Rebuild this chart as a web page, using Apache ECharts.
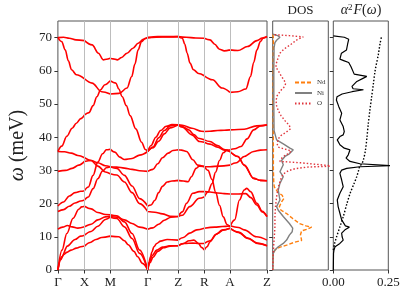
<!DOCTYPE html>
<html><head><meta charset="utf-8">
<script src="https://cdn.jsdelivr.net/npm/echarts@6/dist/echarts.min.js"></script>
<style>html,body{margin:0;padding:0;background:#fff}#c{width:407px;height:295px}</style>
</head><body><div id="c"></div>
<script>
// high-symmetry path positions and labels
const hsPos = [0, 28, 55, 94.5, 126.5, 154, 181, 220];
const hsLabels = ['Γ','X','M','Γ','Z','R','A','Z'];
const yTicks = [0,10,20,30,40,50,60,70];

// phonon branches: [path position, energy meV]
const band1 = [[0,0],[2.7,3],[6,4.6],[9.4,5.3],[14,6],[19.4,6.6],[24,7],[28,7.2],
 [34,8.3],[40,9.2],[46,9.8],[55,10.2],
 [64,10],[70,8.8],[74,7.6],[80,5.6],[84,4],[89,2],[94.5,0],
 [97,2.2],[100,3.8],[105,5.6],[111,6.7],[118,7.2],[126.5,7.3],
 [132,8],[138,8.8],[143,9],[148,8],[151,6.8],[154,6],
 [157,7],[160,8.5],[166,10.7],[173,12],[181,12.6],
 [190,11.3],[200,9.5],[210,8],[220,7.3]];
const band2 = [[0,0],[4,4],[10,7.2],[18,9.2],[24,10.2],[28,10.5],
 [35,11.6],[42,13.2],[50,15.2],[55,15.9],
 [62,15.5],[70,13],[78,9.5],[86,5],[94.5,0],
 [96.5,2.5],[99,4.3],[104,6],[110,6.9],[118,7.3],[126.5,7.3],
 [133,8],[142,8.1],[148,8],[154,8],
 [160,8.8],[168,11],[174,12.1],[181,12.6],
 [190,11.4],[200,9.6],[210,8.1],[220,7.3]];
const band3 = [[0,0],[4.3,6],[9.4,11],[16,15.6],[22,18.3],[25,19],[28,19.2],
 [35,18.4],[42,17.3],[50,16.7],[55,16.6],
 [62,16.3],[70,14.5],[78,11],[86,6],[94.5,0],
 [96,2.5],[97.4,4],[99,5.5],[101,7],[104,8],[108,8.7],[115,9.2],[126.5,9],
 [132,9.8],[138.7,11.1],[146,12.1],[154,12.6],
 [165,12.9],[173,13.1],[181,13.3],
 [190,12.8],[196,12.1],[209,10],[220,9]];
const band4 = [[0,12.3],[5,12.9],[10,13.4],[15,13],[21,12.6],[28,13],
 [35,13.8],[42,15.1],[50,16],[55,16.1],
 [62,15.9],[70,15.1],[78,14],[86,12.9],[94.5,12.3],
 [100,12.7],[106,13.8],[112,15],[119,15.9],[126.5,16.1],
 [131,17.5],[135.4,20.1],[142,23.1],[148.7,23.6],[154,23.6],
 [160,23.5],[168,23.2],[175,23],[181,22.9],
 [190,22.9],[197.7,23],[203,21.8],[209.3,19.6],[215,17.5],[220,16.1]];
const band5 = [[0,17.6],[6,18.2],[12,19.2],[18,20.2],[24,20.8],[28,21.1],
 [32,22],[37,24.5],[42,27.5],[47,29.8],[51,30.8],[55,31.1],
 [62,30.6],[70,28.5],[78,25.3],[86,21.5],[94.5,19.3],
 [98,19.6],[102,21],[106,23.3],[110,25.2],[115,26.5],[120,26.8],[126.5,27],
 [132,26.8],[137,26.6],[140.4,28.1],[145.4,30.6],[148.7,31.3],[154,31.2],
 [158,30],[162,27.3],[166,23.4],[170,19.5],[174,16],[178,13.7],[181,13],
 [186,15.1],[191,21.1],[196,24.1],[198.7,24.6],[202.7,23.6],[209.4,20.1],[215,17.7],[220,16.1]];
const band6 = [[0,19.3],[6,20.5],[12,22.3],[18,23.3],[24,23.7],[28,23.9],
 [32,25],[37,28.5],[42,32.5],[47,35],[51,36.2],[55,36.4],
 [60,35.5],[65,34],[70,33.3],[78,33.6],[86,34.6],[94.5,35.7],
 [98,37.5],[103,40],[108,42],[114,43.3],[120,43.8],[126.5,43.7],
 [131,43.2],[137.7,42.2],[143,40.8],[147.7,39.7],[154,39.2],
 [160,38.7],[168,37.5],[175,36.3],[181,35.7],
 [189.4,34.2],[196,31.6],[206,27.6],[213,27],[220,26.9]];
const band7 = [[0,29.7],[8,30],[15,30.6],[22,31.6],[28,32.7],
 [35,33],[42,32.3],[50,31.4],[55,31.1],
 [62,31],[70,30.7],[78,30.3],[86,29.9],[94.5,29.7],
 [100,30.3],[105,32],[110,33.8],[116,35.2],[121,36],[126.5,36.2],
 [130,36.1],[135.4,35.7],[142,33.2],[147,31.6],[154,31.1],
 [160,31.1],[170,31.3],[181,31.6],
 [188,32.3],[196,34.2],[206,35.7],[213,36.1],[220,36.2]];
const band8 = [[0,35.7],[7,35.6],[14,35.2],[21,34.5],[28,33.8],
 [35,33],[42,31.3],[50,29.5],[55,29],
 [62,28.6],[70,26.5],[78,23.3],[86,20],[94.5,17.6],
 [102,17.4],[110,16.9],[118,16.2],[126.5,16.1],
 [131,16.5],[138.7,19.1],[148.7,21.6],[154,22],
 [158,23.5],[162,26],[166,29.5],[170,33],[174,35.3],[178,36.1],[181,36.2],
 [186,36.5],[192.7,37.2],[199,39.5],[206,42.2],[213,43.4],[220,43.7]];
const band9 = [[0,35.7],[4,37.3],[9.4,40.3],[15,42.7],[19.4,44.2],[24,45.6],[28,46.7],
 [32.7,47.4],[37,49.5],[41,52.2],[45,54.3],[49.4,55.8],[55,57],
 [61,56.3],[64,54.5],[67.7,52.2],[72,49.5],[76,46.5],[82,42.5],[88,38.5],[92,36.3],[94.5,35.7],
 [100,36.8],[106,38.8],[112,41],[118,42.8],[126.5,43.7],
 [131,43.6],[141,42.7],[151,41.8],[154,41.7],
 [160,41.8],[168,42],[175,42.1],[181,42.2],
 [196,42.4],[209,43.4],[220,43.7]];
const band10 = [[0,70],[4,68.8],[7.7,66.3],[11,63],[14.4,60.3],[19.4,58.8],[28,57.6],
 [36,56.3],[46,53.7],[55,53],
 [64.4,53.2],[72.7,54.8],[77.7,58.3],[81,62],[84.4,66.3],[88,68.8],[92,69.8],[94.5,70],
 [110,70.2],[126.5,70.3],
 [131,69.8],[133.5,68],[136,65.3],[139,62.3],[142.7,60.3],[148,59.2],[154,58.5],
 [162.7,57.3],[172.7,54.8],[181,53.5],
 [189.4,53.7],[197.7,54.5],[202.7,58.3],[206,62.5],[209.4,66.3],[213,68.8],[216,69.8],[220,70.3]];
const band11 = [[0,70],[6,70.1],[12,69.8],[19,69.3],[28,69.1],
 [36,67.8],[42.7,65.3],[47.7,63.3],[51,63.5],[55,63.8],
 [58,63.6],[62.7,63.3],[67,64],[72.7,65.3],[79,66.8],[84.4,68.3],[90,69.5],[94.5,70],
 [105,70.3],[115,70.3],[126.5,70.3],
 [135,70.1],[145,69.9],[154,69.8],
 [160,69.3],[165,68],[170,66.5],[175,66],[181,66.3],
 [189.4,66.1],[199.4,67.3],[209.4,69.1],[215,69.9],[220,70.3]];
const band12 = [[94.5,35.7],[100,37],[106,39.8],[112,42],[118,43.4],[126.5,43.7],
 [131,43],[141,40.7],[149,38.7],[154,38.5],
 [160,37.9],[168,37],[175,36.1],[181,35.7],
 [189.4,34.2],[196,31.6],[206,27.6],[213,27],[220,26.9]];

// projected DOS: [energy meV, DOS (arb.)]
const ndDos = [[0,0],[5,0.01],[6,0.04],[6.8,0.12],[7.5,0.25],[8.3,0.38],[8.9,0.52],[9.5,0.55],[10.6,0.5],[11.8,0.52],[12.3,0.62],[12.9,0.7],[13.3,0.6],[14,0.48],[15.5,0.36],[17,0.25],[18,0.15],[19.1,0.12],[20.5,0.16],[21.5,0.2],[22.5,0.17],[23.5,0.09],[25,0.03],[26,0.02],[30,0.012],[36,0.012],[50,0.008],[70,0.012],[71,0]];
const niDos = [[0,0],[5,0.01],[6,0.04],[7,0.1],[8,0.19],[9,0.25],[10.5,0.3],[11.5,0.35],[12.6,0.36],[14,0.3],[16.1,0.19],[18,0.1],[19.1,0.07],[21.1,0.13],[22,0.12],[24.1,0.1],[26.1,0.13],[28.1,0.19],[29.6,0.13],[31.7,0.19],[33,0.16],[34.2,0.22],[35,0.3],[36.2,0.37],[36.7,0.31],[38,0.19],[39.2,0.07],[42,0.025],[50,0.02],[60,0.02],[67,0.025],[68.5,0.04],[69.2,0.07],[70.1,0.13],[70.6,0.09],[71,0.005]];
const oDos = [[0,0],[2,0.005],[5,0.01],[8,0.02],[10,0.03],[13,0.04],[16,0.04],[19,0.05],[22,0.07],[25,0.1],[26,0.12],[28.1,0.16],[29,0.2],[29.9,0.28],[30.5,0.4],[31,0.62],[31.3,1.1],[31.9,1.1],[32.3,0.5],[32.7,0.13],[33.5,0.15],[34.5,0.22],[35.2,0.3],[35.9,0.33],[36.5,0.2],[37,0.1],[38,0.08],[39.5,0.1],[40.5,0.15],[41.5,0.24],[42.5,0.32],[43.5,0.3],[45,0.22],[46.5,0.15],[48,0.1],[49.5,0.07],[51,0.06],[52.5,0.08],[54,0.14],[55,0.2],[56,0.23],[57,0.21],[58.5,0.15],[60,0.1],[61,0.06],[62,0.06],[64,0.1],[65.3,0.13],[66.5,0.2],[68,0.33],[69.5,0.45],[70.2,0.55],[70.6,0.3],[70.9,0.01]];

// Eliashberg function and cumulative curve: [energy meV, value]
const a2f = [[0,0],[5,0.001],[6,0.003],[7,0.008],[8,0.03],[9,0.045],[10,0.04],[11.1,0.038],[12.1,0.053],[12.9,0.073],[13.3,0.055],[15.1,0.038],[17.1,0.03],[19.1,0.022],[21.1,0.018],[23.1,0.03],[25.1,0.045],[27.1,0.038],[29.1,0.03],[30.1,0.038],[30.6,0.061],[31.1,0.121],[31.4,0.26],[31.8,0.26],[32,0.121],[32.7,0.076],[33.7,0.058],[34.7,0.068],[36.2,0.076],[36.7,0.05],[37.7,0.03],[39.2,0.018],[40.2,0.03],[40.7,0.045],[41.7,0.05],[43.2,0.045],[45.2,0.03],[47.2,0.038],[49.2,0.025],[51.2,0.014],[52.2,0.017],[53,0.04],[53.7,0.085],[54.3,0.137],[54.6,0.09],[55.3,0.085],[56.8,0.107],[57.8,0.137],[58.3,0.152],[58.7,0.12],[59,0.095],[61.3,0.08],[62.5,0.07],[63,0.05],[63.5,0.03],[65.3,0.037],[66.3,0.06],[68,0.065],[69.5,0.07],[70.1,0.05],[70.5,0]];
const lambdaCum = [[6,0],[8,0.006],[10,0.015],[13,0.03],[16,0.045],[20,0.062],[23,0.076],[26,0.094],[28,0.106],[30,0.115],[31.2,0.12],[32,0.13],[33.2,0.137],[36,0.146],[40,0.153],[44,0.159],[48,0.166],[52,0.174],[56,0.182],[60,0.19],[65,0.205],[68,0.212],[70.6,0.22]];

const FONT = 'Liberation Serif';
const inner = hsPos.slice(1, -1);
function splitBand(b) {
  const out = [];
  b.forEach((p, i) => {
    out.push(p);
    if (i > 0 && i < b.length - 1 && inner.indexOf(p[0]) >= 0) {
      out.push([p[0], null]);
      out.push(p);
    }
  });
  return out;
}
const bands = [band1,band2,band3,band4,band5,band6,band7,band8,band9,band10,band11,band12];
const flip = arr => arr.map(p => [p[1], p[0]]);

const series = [];
series.push({
  type: 'line', xAxisIndex: 0, yAxisIndex: 0, data: [], silent: true, z: 1,
  markLine: { silent: true, symbol: ['none','none'], label: {show: false},
    lineStyle: {color: '#bdbdbd', width: 1, type: 'solid'},
    data: inner.map(v => ({xAxis: v})) }
});
bands.forEach(b => series.push({
  type: 'line', xAxisIndex: 0, yAxisIndex: 0, data: splitBand(b), showSymbol: false, symbol: 'none',
  smooth: 0.35, smoothMonotone: 'x', connectNulls: false, z: 3,
  lineStyle: {color: '#ff0000', width: 1.6}
}));
series.push({name: 'Nd', type: 'line', xAxisIndex: 1, yAxisIndex: 1, data: flip(ndDos), symbol: 'none', color: '#ff7f0e', lineStyle: {color: '#ff7f0e', width: 1.4, type: [4, 2]}});
series.push({name: 'Ni', type: 'line', xAxisIndex: 1, yAxisIndex: 1, data: flip(niDos), symbol: 'none', color: '#808080', lineStyle: {color: '#808080', width: 1.4}});
series.push({name: 'O', type: 'line', xAxisIndex: 1, yAxisIndex: 1, data: flip(oDos), symbol: 'none', color: '#e0333a', lineStyle: {color: '#e0333a', width: 1.4, type: [1.5, 2]}});
series.push({type: 'line', xAxisIndex: 2, yAxisIndex: 2, data: flip(a2f), symbol: 'none', lineStyle: {color: '#000', width: 1.2}});
series.push({type: 'line', xAxisIndex: 2, yAxisIndex: 2, data: flip(lambdaCum), symbol: 'none', smooth: 0.3, lineStyle: {color: '#000', width: 1.4, type: [1.5, 1.8]}});

const tickStyle = {color: '#333', width: 1};
const lbl = {fontFamily: FONT, fontSize: 13, color: '#222'};
const frame = {show: true, borderColor: '#555', borderWidth: 1, backgroundColor: 'transparent'};
const yBase = (idx) => ({
  gridIndex: idx, type: 'value', min: 0, max: 75,
  axisLine: {show: false}, splitLine: {show: false},
  axisTick: {show: true, customValues: yTicks, length: 3.5, lineStyle: tickStyle},
  axisLabel: {show: idx === 0, customValues: yTicks, margin: 6, ...lbl}
});

const chart = echarts.init(document.getElementById('c'), null, {renderer: 'canvas'});
chart.setOption({
  animation: false,
  backgroundColor: '#fff',
  title: [
    {text: 'DOS', left: 300.5, top: 4, padding: 0, textAlign: 'center', textStyle: {fontFamily: FONT, fontSize: 13, fontWeight: 'normal', color: '#222'}},
    {text: '{i|α}{s|2}{i|F}({i|ω})', left: 361, top: 3, padding: 0, textAlign: 'center',
     textStyle: {fontFamily: FONT, fontSize: 14, fontWeight: 'normal', color: '#222',
       rich: {i: {fontFamily: FONT, fontSize: 14, fontStyle: 'italic', color: '#222'},
              s: {fontFamily: FONT, fontSize: 9, color: '#222', verticalAlign: 'top', padding: [0, 1, 6, 0]}}}}
  ],
  legend: {
    data: ['Nd','Ni','O'], orient: 'vertical', left: 294, top: 79, padding: 0,
    itemWidth: 17, itemHeight: 8, itemGap: 3.5,
    itemStyle: {opacity: 0},
    textStyle: {fontFamily: FONT, fontSize: 7, color: '#333'}
  },
  grid: [
    {left: 47, top: 21, width: 220, height: 249, ...frame},
    {left: 272.7, top: 21, width: 55.6, height: 249, ...frame},
    {left: 333.3, top: 21, width: 55, height: 249, ...frame}
  ],
  xAxis: [
    {gridIndex: 0, type: 'value', min: 0, max: 220, axisLine: {show: false}, splitLine: {show: false},
     axisTick: {show: true, customValues: hsPos, length: 3.5, lineStyle: tickStyle},
     axisLabel: {customValues: hsPos, margin: 6, ...lbl,
       formatter: v => { const i = hsPos.findIndex(p => Math.abs(p - v) < 0.01); return i >= 0 ? hsLabels[i] : ''; }}},
    {gridIndex: 1, type: 'value', min: 0, max: 1, axisLine: {show: false}, splitLine: {show: false},
     axisTick: {show: false}, axisLabel: {show: false}},
    {gridIndex: 2, type: 'value', min: 0, max: 0.25, axisLine: {show: false}, splitLine: {show: false},
     axisTick: {show: true, customValues: [0, 0.25], length: 3.5, lineStyle: tickStyle},
     axisLabel: {customValues: [0, 0.25], margin: 6, ...lbl, formatter: v => v.toFixed(2)}}
  ],
  yAxis: [
    Object.assign(yBase(0), {name: '{i|ω} (meV)', nameLocation: 'middle', nameGap: 23,
      nameTextStyle: {fontFamily: FONT, fontSize: 20, color: '#222',
        rich: {i: {fontFamily: FONT, fontSize: 20, fontStyle: 'italic', color: '#222'}}}}),
    yBase(1), yBase(2)
  ],
  series: series
});
</script></body></html>
